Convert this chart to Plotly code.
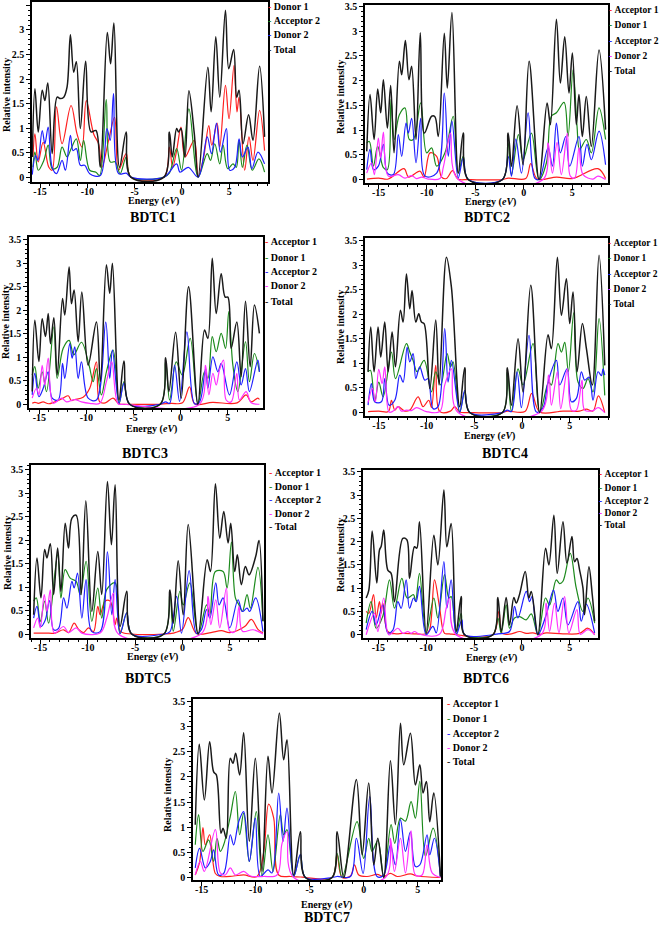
import plotly.graph_objects as go

# ---------------- DATA (energy eV, relative intensity) ----------------
# BDTC1
p1_donor1 = [(-15.75,0.41),(-15.54,0.88),(-15.19,0.31),(-14.67,0.71),(-14.07,0.2),(-13.72,0.14),(-13.26,1.43),(-12.67,0.68),(-11.72,1.46),(-11.09,0.88),(-10.56,0.61),(-10.11,1.56),(-9.33,0.88),(-8.81,0.68),(-8.46,0.2),(-7.75,0.75),(-7.12,1.22),(-6.7,0.14),(-5.89,0.48),(-5.4,0.0),(-1.9,0.0),(-1.33,0.61),(-0.98,0.2),(-0.56,0.54),(-0.1,1.02),(0.32,0.41),(1.3,0.75),(1.72,0.01),(2.3,0.41),(2.84,1.05),(3.16,0.65),(3.72,1.1),(4.0,0.61),(4.6,1.87),(4.98,1.19),(5.51,2.28),(5.82,1.33),(6.04,1.63),(6.63,0.14),(7.09,0.82),(7.51,0.34),(8.21,1.36),(8.74,0.54)]
p1_acceptor2 = [(-15.75,0.2),(-15.54,0.51),(-15.19,0.14),(-14.6,0.34),(-14.14,0.65),(-13.72,0.17),(-13.19,0.2),(-12.67,0.61),(-12.14,0.41),(-11.72,0.58),(-11.16,0.78),(-10.74,0.34),(-10.39,0.75),(-9.75,0.14),(-9.09,0.1),(-8.7,0.03),(-8.0,1.58),(-7.58,0.31),(-7.05,0.31),(-6.53,0.07),(-5.89,0.41),(-5.4,0.0),(-1.9,0.0),(-1.33,0.08),(-0.56,0.58),(-0.04,0.14),(0.74,1.39),(1.72,0.0),(2.67,0.48),(3.02,0.34),(3.47,0.68),(4.0,0.27),(4.35,0.65),(4.84,0.17),(5.4,0.27),(5.75,0.2),(6.04,0.75),(6.39,0.2),(6.88,0.65),(7.44,0.14),(8.14,0.37),(8.74,0.1)]
p1_donor2 = [(-15.82,0.05),(-15.47,0.44),(-15.23,0.34),(-14.77,0.95),(-14.49,0.68),(-14.14,1.02),(-13.72,0.2),(-13.26,0.07),(-12.67,0.34),(-12.32,0.14),(-11.79,0.85),(-11.51,0.54),(-11.16,0.58),(-10.74,0.24),(-10.28,0.24),(-9.75,0.07),(-8.63,0.03),(-7.93,0.99),(-7.58,0.75),(-7.23,1.7),(-6.7,0.07),(-5.89,0.08),(-5.4,0.0),(-1.9,0.0),(-0.56,0.27),(-0.21,0.1),(0.67,0.2),(1.72,0.0),(2.67,0.82),(3.12,0.48),(3.65,1.1),(4.07,0.51),(4.7,0.99),(5.05,0.14),(5.58,0.2),(6.04,0.78),(6.39,0.41),(6.98,0.61),(7.4,0.17),(8.04,0.51),(8.74,0.27)]
p1_total = [(-15.82,0.41),(-15.54,1.80),(-15.19,0.92),(-14.77,1.77),(-14.49,1.56),(-14.18,1.92),(-13.72,0.48),(-13.19,1.63),(-12.85,1.60),(-12.49,1.63),(-12.14,1.84),(-11.79,2.90),(-11.44,2.14),(-11.16,2.35),(-10.74,0.99),(-10.18,2.36),(-9.61,0.92),(-9.09,0.95),(-8.63,0.20),(-7.89,2.95),(-7.54,2.31),(-7.19,3.14),(-6.6,0.2),(-5.89,0.92),(-5.4,0.0),(-1.9,0.0),(-1.33,0.92),(-1.02,0.41),(-0.56,0.99),(-0.35,0.92),(-0.1,0.99),(0.32,0.41),(0.74,1.76),(1.3,0.9),(1.72,0.0),(2.74,2.24),(3.09,1.33),(3.58,2.86),(4.0,1.63),(4.6,3.40),(4.95,2.21),(5.47,2.60),(5.79,1.63),(6.04,1.77),(6.46,0.68),(7.05,1.27),(7.51,0.75),(8.21,2.26),(8.74,0.82)]

# BDTC2
p2_acceptor1 = [(-16.2,0.01),(-15.0,0.03),(-14.0,0.01),(-12.37,0.22),(-11.9,0.05),(-10.72,0.17),(-10.3,0.05),(-9.69,0.54),(-9.0,0.47),(-8.49,0.05),(-8.0,0.02),(-7.35,0.18),(-6.8,0.01),(-5.74,0.0),(-2.2,0.0),(-1.6,0.03),(0.2,0.02),(0.72,0.32),(1.4,0.01),(3.4,0.05),(5.0,0.02),(7.66,0.22),(8.45,0.02)]
p2_donor1 = [(-16.22,0.74),(-15.95,0.77),(-15.53,0.27),(-15.09,0.67),(-14.5,0.24),(-14.09,0.2),(-13.71,1.62),(-13.37,0.81),(-12.85,1.31),(-12.27,1.45),(-11.82,0.81),(-11.41,0.81),(-10.65,1.55),(-10.03,0.54),(-9.52,0.64),(-9.0,0.27),(-8.14,0.54),(-7.29,1.28),(-6.77,0.13),(-6.25,0.47),(-5.74,0.0),(-2.2,0.0),(-1.62,0.74),(-1.27,0.1),(-0.55,0.91),(-0.07,0.4),(0.79,0.94),(1.58,0.0),(2.34,0.34),(2.85,1.28),(3.37,1.35),(4.16,1.56),(4.57,0.87),(5.09,2.22),(5.5,1.08),(5.77,0.61),(6.46,0.81),(6.98,0.54),(7.77,1.45),(8.45,0.81)]
p2_acceptor2 = [(-16.22,0.2),(-15.88,0.61),(-15.53,0.2),(-15.02,0.27),(-14.5,0.71),(-14.09,0.13),(-13.47,0.1),(-12.96,0.91),(-12.61,0.47),(-12.16,1.14),(-11.92,0.94),(-11.58,1.24),(-11.13,0.34),(-10.65,1.24),(-10.21,0.07),(-9.0,0.13),(-8.21,1.75),(-7.8,0.47),(-7.42,1.18),(-6.77,0.03),(-6.25,0.44),(-5.74,0.0),(-2.2,0.0),(-1.62,0.47),(-1.27,0.07),(-0.82,0.82),(-0.24,0.13),(0.45,1.35),(1.13,0.03),(1.58,0.0),(2.51,0.64),(2.96,0.27),(3.37,1.14),(3.78,0.54),(4.33,0.87),(4.74,0.27),(5.7,0.87),(6.05,0.27),(6.53,0.71),(6.98,0.4),(7.77,0.98),(8.45,0.3)]
p2_donor2 = [(-16.22,0.13),(-15.71,0.34),(-15.43,0.1),(-15.02,0.84),(-14.78,0.44),(-14.5,0.96),(-13.99,0.07),(-12.96,0.1),(-12.27,0.03),(-11.58,0.08),(-11.07,0.02),(-10.55,0.05),(-9.86,0.01),(-8.66,0.02),(-8.32,0.24),(-7.9,0.67),(-7.56,0.94),(-6.77,0.0),(1.99,0.0),(2.51,0.74),(2.96,0.13),(3.44,0.75),(3.88,0.1),(4.5,0.94),(4.81,0.07),(5.26,0.03),(5.7,0.64),(6.12,0.1),(7.15,0.01),(7.66,0.07),(8.45,0.0)]
p2_total = [(-16.22,0.57),(-15.88,1.72),(-15.46,0.81),(-15.09,1.83),(-14.78,1.35),(-14.5,2.02),(-14.09,1.04),(-13.75,1.9),(-13.4,0.54),(-12.85,2.39),(-12.61,2.12),(-12.23,2.81),(-11.86,2.02),(-11.58,2.29),(-11.13,0.81),(-10.69,2.97),(-10.27,0.94),(-9.52,1.28),(-9.18,1.27),(-8.83,0.87),(-8.21,2.96),(-7.9,1.85),(-7.42,3.38),(-6.77,0.13),(-6.25,0.94),(-5.74,0.0),(-2.2,0.0),(-1.62,0.94),(-1.27,0.27),(-0.69,1.49),(-0.07,0.3),(0.55,2.39),(1.58,0.0),(2.41,1.55),(2.75,1.11),(3.37,3.24),(3.78,1.95),(4.23,2.89),(4.67,1.75),(5.02,2.56),(5.43,1.11),(5.7,1.72),(6.05,0.87),(6.46,1.68),(6.98,0.67),(7.77,2.62),(8.45,1.01)]

# BDTC3
p3_acceptor1 = [(-15.76,0.02),(-15.48,0.04),(-15.1,0.02),(-14.6,0.05),(-14.0,0.01),(-12.47,0.13),(-11.94,0.18),(-11.59,0.08),(-11.24,0.1),(-10.35,0.15),(-9.65,0.34),(-8.94,0.9),(-8.59,0.05),(-8.0,0.03),(-7.17,0.13),(-6.54,0.01),(-5.41,0.0),(-2.16,0.0),(-1.0,0.02),(0.2,0.03),(0.95,0.37),(1.5,0.01),(3.4,0.04),(6.0,0.03),(6.96,0.2),(7.5,0.05),(8.2,0.13),(8.37,0.1)]
p3_donor1 = [(-15.76,0.62),(-15.48,0.8),(-15.12,0.34),(-14.7,0.69),(-14.24,0.27),(-13.46,1.65),(-13.11,0.55),(-12.47,1.19),(-11.84,1.36),(-11.34,1.05),(-10.53,1.32),(-9.72,0.83),(-9.29,0.48),(-8.94,0.76),(-8.41,0.2),(-7.88,0.69),(-7.17,1.15),(-6.54,0.01),(-6.01,0.48),(-5.41,0.0),(-2.16,0.0),(-1.59,0.9),(-1.17,0.09),(-0.46,0.9),(0.18,0.62),(1.02,1.4),(1.84,0.0),(2.54,0.69),(2.9,0.55),(3.36,1.44),(3.78,1.12),(4.31,1.51),(4.77,1.19),(5.12,1.97),(5.55,0.83),(6.08,0.27),(6.89,1.33),(7.31,0.48),(7.84,1.08),(8.37,0.69)]
p3_acceptor2 = [(-15.76,0.2),(-15.48,0.66),(-15.05,0.16),(-14.59,0.34),(-14.06,0.69),(-13.64,0.13),(-13.0,0.09),(-12.54,0.87),(-12.3,0.55),(-11.77,1.29),(-11.52,0.98),(-11.24,1.22),(-10.88,0.55),(-10.53,0.9),(-9.82,0.13),(-8.94,0.09),(-7.95,1.75),(-7.53,0.55),(-7.24,1.15),(-6.54,0.02),(-6.01,0.45),(-5.41,0.0),(-2.16,0.0),(-1.59,0.05),(-1.17,0.02),(-0.64,0.83),(-0.11,0.06),(0.67,1.54),(1.48,0.01),(2.01,0.05),(2.65,0.76),(2.9,0.34),(3.43,1.01),(3.96,0.69),(4.31,0.87),(5.19,0.2),(5.97,0.9),(6.43,0.41),(6.89,0.76),(7.31,0.27),(8.2,0.94),(8.37,0.69)]
p3_donor2 = [(-15.76,0.13),(-15.3,0.34),(-15.05,0.2),(-14.7,0.83),(-14.42,0.41),(-14.06,0.98),(-13.53,0.02),(-12.65,0.13),(-12.12,0.05),(-11.24,0.1),(-10.53,0.05),(-9.65,0.02),(-8.59,0.02),(-7.88,0.48),(-7.31,0.9),(-6.64,0.01),(-6.0,0.0),(2.0,0.0),(2.65,0.83),(3.0,0.2),(3.43,0.66),(3.78,0.41),(4.13,0.73),(4.56,0.94),(4.84,0.09),(5.37,0.05),(5.97,0.66),(6.25,0.09),(6.96,0.27),(7.49,0.03),(8.37,0.0)]
p3_total = [(-15.76,0.27),(-15.48,1.79),(-15.05,0.91),(-14.7,1.82),(-14.35,1.44),(-14.06,1.93),(-13.82,1.29),(-13.46,1.84),(-13.11,0.62),(-12.54,2.25),(-12.3,1.9),(-11.84,2.92),(-11.59,2.14),(-11.31,2.43),(-10.88,1.33),(-10.49,2.39),(-9.82,0.83),(-8.94,1.75),(-8.52,0.48),(-7.88,2.97),(-7.53,2.36),(-7.24,3.0),(-6.54,0.09),(-6.01,0.92),(-5.41,0.0),(-2.16,0.0),(-1.59,0.99),(-1.24,0.27),(-0.53,1.53),(0.07,0.13),(0.85,2.5),(1.84,0.0),(2.54,1.58),(2.9,1.4),(3.36,3.11),(3.78,1.93),(4.31,2.78),(4.73,2.28),(5.02,2.28),(5.37,1.19),(5.97,1.75),(6.43,0.59),(6.89,2.19),(7.39,0.8),(7.84,2.11),(8.37,1.51)]

# BDTC4
p4_acceptor1 = [(-16.13,0.02),(-15.0,0.03),(-14.0,0.02),(-13.68,0.25),(-13.33,0.05),(-12.98,0.12),(-12.29,0.03),(-11.76,0.05),(-10.89,0.32),(-10.37,0.12),(-9.77,0.25),(-9.49,0.1),(-9.04,0.96),(-8.62,0.02),(-7.5,0.03),(-7.05,0.12),(-6.53,0.01),(-5.48,0.0),(-2.06,0.0),(-1.54,0.03),(0.3,0.02),(1.01,0.39),(1.85,0.01),(4.29,0.03),(6.0,0.03),(6.74,0.07),(7.43,0.03),(7.99,0.34),(8.66,0.0)]
p4_donor1 = [(-16.13,0.83),(-15.88,0.86),(-15.43,0.22),(-15.01,0.62),(-14.55,0.32),(-13.68,1.23),(-13.26,0.69),(-12.11,1.4),(-11.76,1.23),(-11.41,1.06),(-10.99,0.83),(-10.26,1.06),(-9.49,0.42),(-9.04,0.83),(-8.52,0.56),(-7.85,1.2),(-7.5,0.93),(-7.23,1.03),(-6.53,0.01),(-6.0,0.42),(-5.48,0.0),(-2.06,0.0),(-1.54,0.83),(-1.12,0.02),(-0.42,0.89),(0.1,0.56),(1.15,1.4),(1.85,0.0),(2.79,0.62),(3.07,0.56),(3.77,1.4),(4.12,1.23),(4.47,1.43),(4.85,0.83),(5.41,2.03),(5.86,0.62),(6.39,0.49),(6.91,0.69),(7.43,0.42),(8.06,1.91),(8.66,0.35)]
p4_acceptor2 = [(-16.13,0.15),(-15.78,0.59),(-15.43,0.22),(-14.73,0.22),(-14.38,0.69),(-13.93,0.15),(-13.33,0.25),(-12.81,0.76),(-12.46,0.62),(-12.04,1.33),(-11.76,1.03),(-11.41,1.2),(-11.13,0.69),(-10.72,0.93),(-10.19,0.66),(-9.84,0.69),(-9.32,0.08),(-8.8,0.12),(-8.1,1.71),(-7.75,0.62),(-7.4,1.06),(-6.53,0.01),(-6.0,0.45),(-5.48,0.0),(-2.06,0.0),(-1.54,0.05),(-1.12,0.02),(-0.52,0.83),(-0.07,0.1),(0.73,1.57),(1.5,0.01),(2.2,0.1),(2.72,0.62),(3.6,1.06),(3.94,0.56),(4.71,0.89),(5.17,0.22),(5.69,0.29),(6.21,0.83),(6.56,0.66),(7.02,0.72),(7.43,0.25),(7.96,0.83),(8.31,0.75),(8.48,0.89),(8.66,0.76)]
p4_donor2 = [(-16.13,0.2),(-15.67,0.49),(-15.36,0.22),(-15.01,0.88),(-14.66,0.59),(-14.38,0.93),(-13.93,0.01),(-13.5,0.03),(-12.98,0.12),(-12.64,0.03),(-12.11,0.05),(-11.59,0.04),(-11.06,0.1),(-10.02,0.02),(-8.62,0.02),(-8.1,0.56),(-7.4,0.89),(-6.7,0.0),(2.0,0.02),(2.79,0.76),(3.07,0.15),(3.7,0.83),(4.05,0.08),(4.75,0.89),(5.17,0.05),(5.69,0.05),(6.28,0.66),(6.56,0.05),(7.43,0.04),(7.96,0.1),(8.66,0.0)]
p4_total = [(-16.13,0.83),(-15.85,1.74),(-15.5,0.83),(-15.08,1.74),(-14.8,1.13),(-14.38,1.84),(-14.03,0.83),(-13.61,1.64),(-13.26,0.93),(-12.74,2.08),(-12.46,1.84),(-12.11,2.82),(-11.76,2.11),(-11.52,2.48),(-11.13,1.84),(-10.82,2.01),(-10.54,1.84),(-10.26,1.81),(-9.66,0.49),(-9.04,1.88),(-8.69,0.56),(-7.92,3.16),(-7.4,2.55),(-6.53,0.12),(-6.0,0.91),(-5.48,0.0),(-2.06,0.0),(-1.54,0.91),(-1.12,0.15),(-0.42,1.5),(0.1,0.42),(0.91,2.59),(1.85,0.0),(2.72,1.58),(3.07,1.3),(3.7,3.16),(4.12,1.98),(4.64,2.72),(4.99,1.81),(5.34,2.45),(5.76,0.83),(6.32,1.81),(6.74,1.3),(7.36,0.56),(8.06,3.2),(8.66,0.96)]

# BDTC5
p5_acceptor1 = [(-15.72,0.02),(-14.5,0.02),(-13.44,0.02),(-12.56,0.09),(-12.04,0.03),(-11.44,0.23),(-10.98,0.1),(-10.46,0.03),(-9.93,0.13),(-9.4,0.05),(-8.95,0.59),(-8.7,0.41),(-8.18,0.7),(-7.65,0.7),(-7.12,0.2),(-6.95,0.34),(-6.53,0.05),(-5.37,0.0),(-1.96,0.0),(-0.98,0.02),(0.0,0.1),(0.6,0.35),(1.47,0.01),(3.0,0.03),(4.1,0.07),(5.0,0.03),(6.56,0.16),(7.26,0.31),(7.96,0.1),(8.49,0.02)]
p5_donor1 = [(-15.72,0.7),(-15.44,0.77),(-15.02,0.27),(-14.56,0.7),(-14.14,0.23),(-13.19,1.69),(-12.84,0.77),(-12.39,1.37),(-11.86,1.19),(-11.23,1.12),(-10.81,0.84),(-10.18,1.55),(-9.58,0.27),(-8.95,0.98),(-8.53,0.34),(-8.0,0.95),(-7.12,1.09),(-6.6,0.01),(-5.89,0.45),(-5.37,0.0),(-1.96,0.0),(-1.33,0.84),(-0.98,0.06),(-0.28,0.91),(0.07,0.62),(0.77,1.09),(1.65,0.0),(2.53,0.62),(2.88,0.41),(3.47,1.33),(4.28,1.33),(4.7,0.98),(5.16,1.96),(5.58,0.77),(5.96,0.62),(6.32,0.48),(6.81,0.84),(7.16,0.55),(7.96,1.42),(8.49,0.27)]
p5_acceptor2 = [(-15.72,0.34),(-15.37,0.59),(-14.95,0.16),(-14.49,0.3),(-14.04,0.71),(-13.61,0.09),(-13.09,0.12),(-12.56,0.77),(-12.21,0.55),(-11.68,1.12),(-11.44,0.98),(-11.09,1.3),(-10.63,0.34),(-10.18,1.16),(-9.58,0.05),(-8.7,0.05),(-7.93,1.75),(-7.47,0.41),(-7.12,1.16),(-6.6,0.01),(-5.89,0.45),(-5.37,0.0),(-1.96,0.0),(-1.33,0.05),(-0.63,0.8),(-0.11,0.02),(0.7,1.35),(1.47,0.01),(2.0,0.1),(2.53,0.52),(2.88,0.34),(3.51,1.09),(3.86,0.62),(4.28,0.77),(4.98,0.13),(5.86,0.73),(6.32,0.48),(6.81,0.55),(7.09,0.48),(7.72,0.77),(8.49,0.05)]
p5_donor2 = [(-15.72,0.13),(-15.3,0.34),(-15.02,0.13),(-14.6,0.84),(-14.32,0.48),(-13.96,0.94),(-13.54,0.02),(-12.56,0.16),(-12.04,0.03),(-11.23,0.13),(-10.63,0.02),(-8.7,0.02),(-8.0,0.34),(-7.3,0.87),(-6.77,0.0),(2.0,0.01),(2.7,0.8),(2.98,0.2),(3.51,0.73),(3.93,0.13),(4.63,0.98),(4.98,0.06),(5.51,0.05),(5.96,0.59),(6.32,0.06),(7.44,0.09),(8.49,0.0)]
p5_total = [(-15.72,0.41),(-15.37,1.62),(-14.95,0.77),(-14.56,1.8),(-14.32,1.62),(-13.96,1.92),(-13.61,0.84),(-13.19,1.83),(-12.84,0.91),(-12.39,2.36),(-12.04,1.83),(-11.68,2.47),(-11.23,2.53),(-10.7,0.84),(-10.21,2.84),(-9.58,0.48),(-8.95,1.76),(-8.53,0.84),(-7.93,3.25),(-7.51,1.9),(-7.12,3.18),(-6.6,0.16),(-5.89,0.91),(-5.37,0.0),(-1.96,0.0),(-1.33,0.94),(-0.98,0.23),(-0.46,1.56),(0.07,0.41),(0.6,2.33),(1.65,0.0),(2.6,1.58),(2.95,1.33),(3.47,3.2),(3.93,2.04),(4.35,2.61),(4.81,1.94),(5.09,2.36),(5.51,1.33),(5.79,1.69),(6.21,1.05),(6.63,1.44),(7.02,1.26),(7.72,1.65),(8.07,1.99),(8.49,0.27)]

# BDTC6
p6_acceptor1 = [(-16.27,0.5),(-15.99,0.46),(-15.5,0.86),(-15.23,0.36),(-14.88,0.71),(-14.7,0.46),(-14.53,0.68),(-14.01,0.07),(-13.14,0.02),(-12.44,0.03),(-11.05,0.02),(-10.0,0.02),(-9.65,0.1),(-9.13,1.18),(-8.61,0.6),(-8.08,0.03),(-7.56,0.02),(-6.86,0.0),(-3.03,0.0),(-2.4,0.5),(-2.06,0.03),(-1.1,0.02),(-0.24,0.07),(0.45,0.03),(1.15,0.04),(1.85,0.01),(2.54,0.04),(4.29,0.02),(6.03,0.03),(6.9,0.14),(7.6,0.0)]
p6_donor1 = [(-16.27,0.25),(-15.75,0.71),(-15.23,0.14),(-14.53,0.4),(-13.83,1.18),(-13.31,0.57),(-12.54,1.21),(-11.99,0.79),(-11.32,0.86),(-11.11,0.71),(-10.7,1.32),(-10.0,0.03),(-9.2,0.79),(-8.78,0.36),(-8.08,1.29),(-7.63,0.79),(-7.39,0.82),(-6.86,0.02),(-6.34,0.46),(-5.99,0.0),(-3.03,0.0),(-2.51,0.36),(-2.16,0.03),(-1.64,0.64),(-1.29,0.14),(-0.77,0.36),(-0.24,0.39),(0.45,0.32),(0.98,0.45),(1.67,0.0),(2.47,0.79),(2.89,0.64),(3.59,1.18),(3.94,1.1),(4.29,1.15),(5.05,1.75),(5.68,1.0),(6.38,0.5),(6.9,0.79),(7.6,0.25)]
p6_acceptor2 = [(-16.27,0.11),(-15.64,0.5),(-15.23,0.21),(-14.53,0.64),(-14.01,0.04),(-13.48,0.1),(-12.96,0.71),(-12.61,0.57),(-12.09,1.18),(-11.74,0.57),(-11.32,0.79),(-11.05,0.71),(-10.7,1.04),(-10.0,0.0),(-9.3,0.18),(-8.95,0.04),(-8.15,1.57),(-7.84,0.57),(-7.39,1.18),(-6.86,0.0),(-6.27,0.32),(-5.99,0.0),(-3.03,0.0),(-2.51,0.02),(-1.29,0.07),(-0.77,0.61),(-0.42,0.36),(0.45,0.93),(0.8,0.71),(1.05,0.82),(1.67,0.0),(2.54,0.43),(3.31,0.96),(3.76,0.5),(4.29,0.79),(4.81,0.21),(5.85,0.71),(6.2,0.29),(6.72,0.66),(7.6,0.04)]
p6_donor2 = [(-16.27,0.0),(-15.4,0.46),(-15.05,0.07),(-14.43,0.79),(-13.9,0.0),(-12.96,0.14),(-12.44,0.03),(-11.92,0.07),(-11.57,0.03),(-11.22,0.07),(-10.7,0.01),(-8.61,0.01),(-7.91,0.57),(-7.56,0.79),(-6.86,0.0),(2.0,0.0),(2.54,0.68),(2.89,0.07),(3.41,0.68),(3.87,0.04),(4.46,0.82),(4.91,0.04),(5.75,0.54),(6.1,0.01),(6.9,0.11),(7.6,0.0)]
p6_total = [(-16.27,0.79),(-15.99,0.96),(-15.64,2.23),(-15.16,1.11),(-14.88,1.82),(-14.7,1.9),(-14.43,2.25),(-14.01,1.39),(-13.66,1.32),(-13.31,0.71),(-12.44,2.07),(-12.02,2.04),(-11.74,1.21),(-11.22,1.89),(-10.98,1.86),(-10.7,2.43),(-10.0,0.04),(-9.2,2.14),(-8.78,1.5),(-8.15,3.11),(-7.84,1.89),(-7.39,2.39),(-6.86,0.07),(-6.34,0.82),(-5.99,0.0),(-3.03,0.0),(-2.51,0.8),(-2.16,0.07),(-1.64,0.8),(-1.29,0.21),(-0.84,0.8),(-0.59,0.68),(-0.24,0.87),(0.35,1.36),(0.73,0.79),(0.98,0.93),(1.67,0.0),(2.47,1.86),(2.82,1.5),(3.34,2.57),(3.69,1.32),(4.29,2.43),(4.7,1.54),(5.23,2.11),(5.5,1.57),(5.75,1.64),(6.03,1.39),(6.38,1.0),(6.55,0.43),(7.0,1.46),(7.35,0.86),(7.6,0.29)]

# BDTC7
p7_acceptor1 = [(-15.59,0.05),(-15.19,0.3),(-14.88,0.99),(-14.66,0.65),(-14.26,0.85),(-13.73,0.08),(-13.27,0.02),(-12.04,0.03),(-11.11,0.05),(-9.88,0.02),(-9.26,0.5),(-8.8,1.46),(-8.33,1.18),(-7.87,0.05),(-6.79,0.02),(-5.86,0.01),(-5.4,0.0),(-2.93,0.0),(-2.47,0.45),(-2.01,0.0),(-1.23,0.03),(-0.86,0.25),(-0.46,0.05),(0.31,0.02),(1.23,0.06),(1.85,0.02),(2.47,0.08),(3.09,0.02),(4.32,0.07),(4.94,0.03),(7.1,0.0)]
p7_donor1 = [(-15.59,0.65),(-15.28,1.25),(-14.88,0.52),(-14.35,0.75),(-13.89,0.32),(-13.58,0.78),(-13.27,0.52),(-12.96,0.65),(-12.35,1.21),(-11.88,1.71),(-11.48,0.85),(-11.11,1.28),(-10.59,0.32),(-9.94,1.31),(-9.41,0.02),(-8.86,0.85),(-8.39,0.12),(-7.72,1.25),(-7.41,0.85),(-7.1,0.95),(-6.48,0.02),(-5.86,0.45),(-5.4,0.0),(-2.93,0.0),(-2.47,0.48),(-2.01,0.0),(-0.62,1.11),(0.0,0.38),(0.46,0.78),(0.77,0.52),(1.3,0.73),(1.85,0.02),(2.53,1.05),(2.87,0.68),(3.4,1.18),(3.86,1.12),(4.38,1.51),(4.78,1.18),(5.19,1.91),(5.71,0.42),(6.42,0.98),(7.1,0.02)]
p7_acceptor2 = [(-15.59,0.19),(-15.19,0.58),(-14.66,0.19),(-14.2,0.32),(-13.89,0.55),(-13.43,0.05),(-12.96,0.08),(-12.35,0.85),(-12.04,0.65),(-11.57,1.11),(-11.11,1.31),(-10.59,0.32),(-10.03,1.18),(-9.57,0.02),(-8.86,0.15),(-8.49,0.09),(-7.87,1.68),(-7.47,0.72),(-7.1,1.38),(-6.48,0.02),(-5.86,0.46),(-5.4,0.0),(-2.93,0.0),(-2.47,0.02),(-1.23,0.02),(-0.68,0.78),(-0.06,0.08),(0.56,1.61),(1.23,0.02),(1.85,0.05),(2.47,0.65),(2.93,0.25),(3.4,1.15),(3.86,0.52),(4.32,0.91),(4.78,0.22),(5.19,0.25),(5.86,0.85),(6.11,0.45),(6.54,0.78),(7.1,0.02)]
p7_donor2 = [(-15.59,0.05),(-15.12,0.32),(-14.75,0.12),(-13.73,0.95),(-13.27,0.09),(-12.81,0.05),(-12.35,0.19),(-11.88,0.05),(-11.11,0.12),(-10.49,0.03),(-9.26,0.02),(-8.02,0.05),(-7.56,0.68),(-7.1,0.91),(-6.48,0.0),(2.0,0.0),(2.47,0.78),(2.84,0.12),(3.4,0.78),(3.86,0.09),(4.38,0.93),(4.78,0.05),(5.4,0.05),(5.86,0.65),(6.33,0.09),(7.1,0.0)]
p7_total = [(-15.59,1.05),(-15.22,2.65),(-14.75,1.54),(-14.26,2.7),(-13.89,2.1),(-13.64,2.04),(-13.21,0.88),(-13.02,0.98),(-12.72,0.78),(-12.35,2.37),(-12.1,2.27),(-11.85,2.47),(-11.48,2.04),(-11.11,2.88),(-10.59,0.72),(-10.03,2.37),(-9.41,0.12),(-8.86,2.41),(-8.49,1.68),(-7.81,3.27),(-7.41,2.34),(-7.1,2.74),(-6.48,0.05),(-5.86,0.91),(-5.4,0.0),(-2.93,0.0),(-2.47,0.91),(-1.85,0.0),(-0.68,1.95),(-0.15,0.45),(0.46,1.88),(0.93,0.25),(1.3,0.78),(1.85,0.0),(2.47,2.32),(2.93,1.05),(3.4,3.07),(3.7,2.24),(4.32,2.87),(4.78,1.84),(5.19,2.24),(5.49,1.68),(5.8,1.91),(6.11,1.11),(6.48,1.68),(7.1,0.02)]

panel_names = ["BDTC1", "BDTC2", "BDTC3", "BDTC4", "BDTC5", "BDTC6", "BDTC7"]
series_names_p1 = ["Donor 1", "Acceptor 2", "Donor 2", "Total"]
series_names = ["Acceptor 1", "Donor 1", "Acceptor 2", "Donor 2", "Total"]
y_ticks = [0, 0.5, 1, 1.5, 2, 2.5, 3, 3.5]
x_ticks = [-15, -10, -5, 0, 5]
x_tick_labels = ["-15", "-10", "-5", "0", "5"]
x_title = "Energy (<i>eV</i>)"
y_title = "Relative intensity"

panel_series = [
    [p1_donor1, p1_acceptor2, p1_donor2, p1_total],
    [p2_acceptor1, p2_donor1, p2_acceptor2, p2_donor2, p2_total],
    [p3_acceptor1, p3_donor1, p3_acceptor2, p3_donor2, p3_total],
    [p4_acceptor1, p4_donor1, p4_acceptor2, p4_donor2, p4_total],
    [p5_acceptor1, p5_donor1, p5_acceptor2, p5_donor2, p5_total],
    [p6_acceptor1, p6_donor1, p6_acceptor2, p6_donor2, p6_total],
    [p7_acceptor1, p7_donor1, p7_acceptor2, p7_donor2, p7_total],
]

# ---------------- LAYOUT / STYLE ----------------
W, H = 661, 926
COLORS = ["#ff1f1f", "#1c8a1c", "#1f1fff", "#ff30ff"]
TOTAL_COLOR = "#1a1a1a"
FONT = "Liberation Serif"

# plot boxes in pixels: left, right, top, bottom
boxes = [(32, 268, 2, 182), (365, 608, 5, 183), (29, 263, 237, 408), (365, 608, 238, 416),
         (31, 264, 465, 638), (363, 598, 470, 638), (193, 441, 699, 880)]
xranges = [(-15.85, 9.1), (-16.4, 8.7), (-16.1, 8.75), (-16.45, 9.0), (-16.0, 8.6), (-16.6, 7.95), (-15.8, 7.15)]
yranges = [(-0.1, 3.57), (-0.07, 3.53), (-0.08, 3.56), (-0.07, 3.55), (-0.085, 3.6), (-0.07, 3.54), (-0.05, 3.55)]
legend_x = [267, 608, 264, 607, 268, 598, 446]
legend_size = [10, 9.5, 10, 9.5, 10, 9.5, 10]
legend_y = [[7, 21, 35, 49], [10, 25, 41, 56, 71], [242, 257, 272, 286, 301], [243, 258, 274, 289, 304],
            [472, 486, 500, 513, 526], [474, 488, 501, 513, 525], [703, 718, 733, 747, 761]]
title_pos = [(153, 218), (487, 218), (145, 453), (505, 453), (148, 678), (486, 678), (327, 917)]
xtitle_pos = [(153, 201), (490, 202), (151, 429), (489, 436), (152, 657), (492, 658), (326, 905)]
ytitle_pos = [(6, 95), (340, 97), (6, 322), (340, 327), (7, 553), (340, 555), (167, 795)]

fig = go.Figure()
layout = dict(template="none", width=W, height=H, margin=dict(l=0, r=0, t=0, b=0, autoexpand=False),
              paper_bgcolor="white", plot_bgcolor="white", showlegend=False,
              font=dict(family=FONT, color="black"))
annotations = []


def px_x(v):
    return v / W


def px_y(v):
    return 1 - v / H


for k in range(7):
    ax = "" if k == 0 else str(k + 1)
    l, r, t, b = boxes[k]
    names = series_names_p1 if k == 0 else series_names
    data = panel_series[k]
    for j, (nm, ser) in enumerate(zip(names, data)):
        col = TOTAL_COLOR if nm == "Total" else COLORS[j]
        fig.add_trace(go.Scatter(
            x=[p[0] for p in ser], y=[p[1] for p in ser], mode="lines", name=nm,
            line=dict(color=col, width=1.5 if nm == "Total" else 1.2, shape="spline", smoothing=1.0),
            xaxis="x" + ax, yaxis="y" + ax, hoverinfo="skip"))
    layout["xaxis" + ax] = dict(
        domain=[px_x(l), px_x(r)], range=list(xranges[k]), anchor="y" + ax, automargin=False,
        showline=True, linecolor="black", linewidth=1.5, mirror=True,
        showgrid=False, zeroline=False, ticks="outside", ticklen=4, tickwidth=1, tickcolor="black",
        tickmode="array", tickvals=x_ticks, ticktext=x_tick_labels, ticklabelstandoff=-5,
        tickfont=dict(family=FONT, size=10, weight="bold"),
        minor=dict(ticks="outside", ticklen=2, tickcolor="black", tickmode="linear", tick0=0, dtick=1))
    layout["yaxis" + ax] = dict(
        domain=[px_y(b), px_y(t)], range=list(yranges[k]), anchor="x" + ax, automargin=False,
        showline=True, linecolor="black", linewidth=1.5, mirror=True,
        showgrid=False, zeroline=False, ticks="outside", ticklen=4, tickwidth=1, tickcolor="black",
        tickmode="array", tickvals=y_ticks,
        tickfont=dict(family=FONT, size=10, weight="bold"),
        minor=dict(ticks="outside", ticklen=2, tickcolor="black", tickmode="linear", tick0=0, dtick=0.1))
    for j, nm in enumerate(names):
        col = TOTAL_COLOR if nm == "Total" else COLORS[j]
        annotations.append(dict(
            x=px_x(legend_x[k]), y=px_y(legend_y[k][j]), xref="paper", yref="paper",
            xanchor="left", yanchor="middle", showarrow=False, borderpad=0,
            text=f'<span style="color:{col}"><b>-</b></span> <b>{nm}</b>',
            font=dict(family=FONT, size=legend_size[k], color="black")))
    tx, ty = title_pos[k]
    annotations.append(dict(
        x=px_x(tx), y=px_y(ty), xref="paper", yref="paper", xanchor="center", yanchor="middle",
        showarrow=False, text=f"<b>{panel_names[k]}</b>", font=dict(family=FONT, size=14, color="black")))
    ex, ey = xtitle_pos[k]
    annotations.append(dict(
        x=px_x(ex), y=px_y(ey), xref="paper", yref="paper", xanchor="center", yanchor="middle",
        showarrow=False, borderpad=0, text=f"<b>{x_title}</b>", font=dict(family=FONT, size=10, color="black")))
    rx, ry = ytitle_pos[k]
    annotations.append(dict(
        x=px_x(rx), y=px_y(ry), xref="paper", yref="paper", xanchor="center", yanchor="middle",
        showarrow=False, textangle=-90, text=f"<b>{y_title}</b>",
        font=dict(family=FONT, size=10, color="black")))

layout["annotations"] = annotations
fig.update_layout(**layout)
fig.write_html("out.html", config={"displayModeBar": False},
               post_script="document.body.style.margin='0';document.body.style.padding='0';"
                           "document.body.style.overflow='hidden';")
